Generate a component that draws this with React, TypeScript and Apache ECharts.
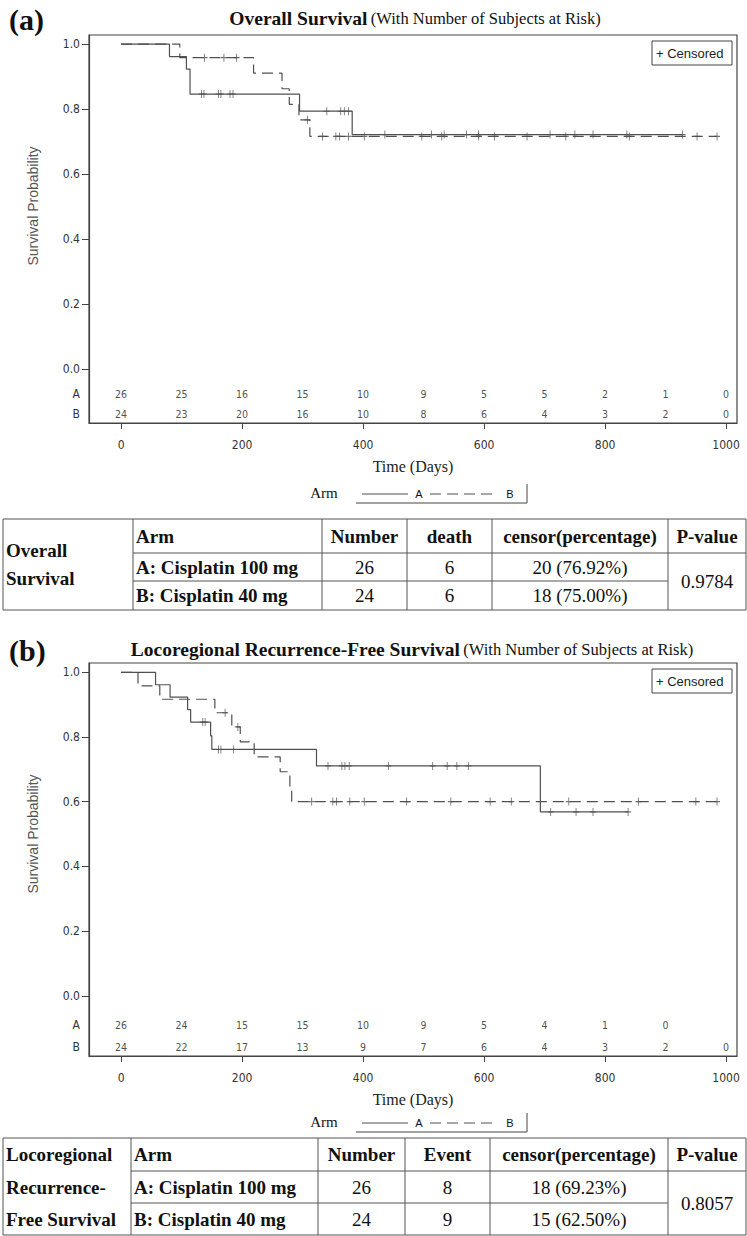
import React, { useEffect, useRef } from "react";
import * as echarts from "echarts";

// ---------- DATA ----------
const riskDays = [0, 100, 200, 300, 400, 500, 600, 700, 800, 900, 1000];
const xTicks = [0, 200, 400, 600, 800, 1000];
const yTicks = [0, 0.2, 0.4, 0.6, 0.8, 1.0];

// (a) Overall survival
const osRiskA = [26, 25, 16, 15, 10, 9, 5, 5, 2, 1, 0];
const osRiskB = [24, 23, 20, 16, 10, 8, 6, 4, 3, 2, 0];
const osA_eventDays = [80, 108, 114, 295, 382];
const osA_eventSurv = [0.9615, 0.9231, 0.8462, 0.7933, 0.7212];
const osA_censorDays = [133, 137, 161, 165, 180, 185, 340, 363, 369, 376, 436, 513, 534, 571, 591, 709, 750, 780, 836, 928];
const osA_lastDay = 928;
const osB_eventDays = [97, 219, 266, 278, 294, 312];
const osB_eventSurv = [0.9583, 0.9104, 0.8625, 0.8146, 0.7667, 0.7156];
const osB_censorDays = [138, 170, 191, 308, 333, 355, 361, 376, 402, 497, 530, 591, 617, 671, 735, 840, 952, 985];
const osB_lastDay = 985;

// (b) Locoregional recurrence-free survival
const lrRiskA = [26, 24, 15, 15, 10, 9, 5, 4, 1, 0];
const lrRiskB = [24, 22, 17, 13, 9, 7, 6, 4, 3, 2, 0];
const lrA_eventDays = [57, 81, 110, 115, 148, 150, 323, 693];
const lrA_eventSurv = [0.9615, 0.9231, 0.8846, 0.8462, 0.8038, 0.7615, 0.7108, 0.5686];
const lrA_censorDays = [135, 139, 161, 165, 186, 342, 365, 370, 377, 442, 515, 539, 555, 574, 710, 752, 780, 838];
const lrA_lastDay = 838;
const lrB_eventDays = [28, 64, 155, 183, 197, 220, 263, 279, 282];
const lrB_eventSurv = [0.9583, 0.9167, 0.875, 0.8313, 0.7851, 0.7389, 0.6927, 0.6465, 0.6004];
const lrB_censorDays = [172, 193, 315, 350, 356, 378, 402, 472, 545, 610, 645, 740, 855, 950, 985];
const lrB_lastDay = 985;

// tables
const osTableTitle = ["Overall", "Survival"];
const osTableHeader = ["Arm", "Number", "death", "censor(percentage)", "P-value"];
const osTableRows = [
  ["A: Cisplatin 100 mg", "26", "6", "20 (76.92%)"],
  ["B: Cisplatin 40 mg", "24", "6", "18 (75.00%)"],
];
const osPValue = "0.9784";

const lrTableTitle = ["Locoregional", "Recurrence-", "Free Survival"];
const lrTableHeader = ["Arm", "Number", "Event", "censor(percentage)", "P-value"];
const lrTableRows = [
  ["A: Cisplatin 100 mg", "26", "8", "18 (69.23%)"],
  ["B: Cisplatin 40 mg", "24", "9", "15 (62.50%)"],
];
const lrPValue = "0.8057";

// ---------- STYLE ----------
const SERIF = "'Liberation Serif', 'Times New Roman', serif";
const NARROW = "'Liberation Sans Narrow', 'Arial Narrow', 'DejaVu Sans Condensed', 'Liberation Sans', sans-serif";
const SANS = "'Liberation Sans', Arial, sans-serif";
const FRAME = "#444";
const CURVE = "#505050";
const DASH = [11, 6];
const TFS = 19;

function stepLine(days: number[], surv: number[], last: number) {
  const pts: number[][] = [[0, 1]];
  let s = 1;
  days.forEach((d, i) => {
    pts.push([d, s]);
    s = surv[i];
    pts.push([d, s]);
  });
  pts.push([last, s]);
  return pts;
}
function survAt(days: number[], surv: number[], t: number) {
  let s = 1;
  days.forEach((d, i) => {
    if (d <= t) s = surv[i];
  });
  return s;
}

const CENSOR_SYMBOL = "path://M3,0L3,8M0,4L6,4";

function panelSeries(
  idx: number,
  A: { d: number[]; s: number[]; c: number[]; last: number; risk: number[] },
  B: { d: number[]; s: number[]; c: number[]; last: number; risk: number[] },
  rowA: number,
  rowB: number
) {
  const riskLabel = {
    show: true,
    position: "inside",
    formatter: (p: any) => String(p.value[2]),
    fontSize: 10.5,
    fontFamily: NARROW,
    color: "#222",
  };
  return [
    {
      type: "line",
      xAxisIndex: idx,
      yAxisIndex: idx,
      data: stepLine(A.d, A.s, A.last),
      showSymbol: false,
      lineStyle: { color: CURVE, width: 1.2 },
      silent: true,
    },
    {
      type: "line",
      xAxisIndex: idx,
      yAxisIndex: idx,
      data: stepLine(B.d, B.s, B.last),
      showSymbol: false,
      lineStyle: { color: CURVE, width: 1.2, type: DASH },
      silent: true,
    },
    {
      type: "scatter",
      xAxisIndex: idx,
      yAxisIndex: idx,
      data: A.c.map((t) => [t, survAt(A.d, A.s, t)]),
      symbol: CENSOR_SYMBOL,
      symbolSize: [6, 8],
      itemStyle: { color: "none", borderColor: CURVE, borderWidth: 1 },
      silent: true,
    },
    {
      type: "scatter",
      xAxisIndex: idx,
      yAxisIndex: idx,
      data: B.c.map((t) => [t, survAt(B.d, B.s, t)]),
      symbol: CENSOR_SYMBOL,
      symbolSize: [6, 8],
      itemStyle: { color: "none", borderColor: CURVE, borderWidth: 1 },
      silent: true,
    },
    {
      type: "scatter",
      xAxisIndex: idx,
      yAxisIndex: idx,
      data: A.risk.map((n, i) => [riskDays[i], rowA, n]),
      symbolSize: 0,
      label: riskLabel,
      silent: true,
    },
    {
      type: "scatter",
      xAxisIndex: idx,
      yAxisIndex: idx,
      data: B.risk.map((n, i) => [riskDays[i], rowB, n]),
      symbolSize: 0,
      label: riskLabel,
      silent: true,
    },
  ];
}

function xAxisCfg(idx: number) {
  return {
    type: "value",
    gridIndex: idx,
    min: -53,
    max: 1018,
    name: "Time (Days)",
    nameLocation: "middle",
    nameGap: 35,
    nameTextStyle: { fontFamily: SERIF, fontSize: 16, color: "#222" },
    axisLine: { show: true, onZero: false, lineStyle: { color: FRAME, width: 1.2 } },
    axisTick: { show: true, length: 6, customValues: xTicks, lineStyle: { color: FRAME } },
    axisLabel: {
      customValues: xTicks,
      margin: 16,
      fontFamily: NARROW,
      fontSize: 12,
      color: "#333",
      formatter: (v: number) => String(v),
    },
    splitLine: { show: false },
  };
}

function yAxisCfg(idx: number, min: number, max: number, rowA: number, rowB: number) {
  return {
    type: "value",
    gridIndex: idx,
    min,
    max,
    axisLine: { show: true, onZero: false, lineStyle: { color: FRAME, width: 1.2 } },
    axisTick: { show: true, length: 7, customValues: yTicks, lineStyle: { color: FRAME } },
    axisLabel: {
      customValues: [rowB, rowA, ...yTicks],
      margin: 9,
      fontFamily: NARROW,
      fontSize: 12,
      color: "#333",
      formatter: (v: number) =>
        Math.abs(v - rowA) < 1e-6 ? "A" : Math.abs(v - rowB) < 1e-6 ? "B" : v.toFixed(1),
    },
    splitLine: { show: false },
  };
}

function txt(text: string, x: number, y: number, o: any = {}) {
  return {
    type: "text",
    x,
    y,
    silent: true,
    style: {
      text,
      fontFamily: o.fontFamily || SERIF,
      fontSize: o.fontSize || 16,
      fontWeight: o.fontWeight || "normal",
      fill: o.fill || "#111",
      align: o.align || "left",
      verticalAlign: o.verticalAlign || "middle",
    },
    ...(o.rotation !== undefined ? { rotation: o.rotation } : {}),
  };
}
function ln(x1: number, y1: number, x2: number, y2: number, o: any = {}) {
  return {
    type: "line",
    silent: true,
    shape: { x1, y1, x2, y2 },
    style: { stroke: o.stroke || "#333", lineWidth: o.lineWidth || 1, lineDash: o.lineDash || null },
  };
}

function panelDecor(label: string, titleBold: string, titleCx: number, titleY: number, gridTop: number, yMid: number, legendY: number) {
  const els: any[] = [];
  els.push(txt(label, 9, titleY + 1, { fontWeight: "bold", fontSize: 30 }));
  els.push({
    type: "text",
    x: titleCx,
    y: titleY,
    silent: true,
    style: {
      text: `{b|${titleBold}} {n|(With Number of Subjects at Risk)}`,
      align: "center",
      verticalAlign: "middle",
      rich: {
        b: { fontFamily: SERIF, fontWeight: "bold", fontSize: 19.5, fill: "#111" },
        n: { fontFamily: SERIF, fontSize: 16.5, fill: "#111" },
      },
    },
  });
  els.push(txt("Survival Probability", 33, yMid, { fontFamily: SANS, fontSize: 14, fill: "#555", align: "center", rotation: Math.PI / 2 }));
  // Censored legend box
  els.push({
    type: "rect",
    silent: true,
    shape: { x: 652, y: gridTop + 6, width: 80, height: 24 },
    style: { fill: "#fff", stroke: FRAME, lineWidth: 1 },
  });
  els.push(txt("+ Censored", 656, gridTop + 18.5, { fontFamily: SANS, fontSize: 13, fill: "#222" }));
  // bottom Arm legend
  els.push(txt("Arm", 324, legendY, { fontSize: 15, align: "center" }));
  els.push(ln(362, legendY + 1, 408, legendY + 1, { stroke: CURVE }));
  els.push(txt("A", 419, legendY + 1, { fontFamily: SANS, fontSize: 11, align: "center" }));
  els.push(ln(430, legendY + 1, 494, legendY + 1, { stroke: CURVE, lineDash: DASH }));
  els.push(txt("B", 510, legendY + 1, { fontFamily: SANS, fontSize: 11, align: "center" }));
  els.push(ln(356, legendY + 10, 527, legendY + 10, { stroke: FRAME }));
  els.push(ln(527, legendY - 9, 527, legendY + 10, { stroke: FRAME }));
  return els;
}

function tableDecor(
  y: number[],
  xs: number[],
  title: string[],
  titleYs: number[],
  header: string[],
  rows: string[][],
  pValue: string
) {
  const els: any[] = [];
  const L = xs[0];
  const R = xs[xs.length - 1];
  const st = { stroke: "#555", lineWidth: 1 };
  els.push(ln(L, y[0], R, y[0], st));
  els.push(ln(L, y[3], R, y[3], st));
  els.push(ln(xs[1], y[1], R, y[1], st));
  els.push(ln(xs[1], y[2], xs[5], y[2], st));
  xs.forEach((x) => els.push(ln(x, y[0], x, y[3], st)));
  title.forEach((t, i) => els.push(txt(t, L + 3, titleYs[i], { fontWeight: "bold", fontSize: TFS })));
  const cy = [(y[0] + y[1]) / 2, (y[1] + y[2]) / 2, (y[2] + y[3]) / 2];
  header.forEach((h, j) => {
    if (j === 0) els.push(txt(h, xs[1] + 3, cy[0], { fontWeight: "bold", fontSize: TFS }));
    else els.push(txt(h, (xs[j + 1] + xs[j + 2]) / 2, cy[0], { fontWeight: "bold", fontSize: TFS, align: "center" }));
  });
  rows.forEach((r, i) => {
    r.forEach((c, j) => {
      if (j === 0) els.push(txt(c, xs[1] + 3, cy[i + 1], { fontWeight: "bold", fontSize: TFS }));
      else els.push(txt(c, (xs[j + 1] + xs[j + 2]) / 2, cy[i + 1], { fontSize: TFS, align: "center" }));
    });
  });
  els.push(txt(pValue, (xs[5] + xs[6]) / 2, y[2], { fontSize: TFS, align: "center" }));
  return els;
}

export default function App() {
  const ref = useRef<HTMLDivElement>(null);
  useEffect(() => {
    document.body.style.margin = "0";
    const chart = echarts.init(ref.current!, undefined, { renderer: "svg" });
    const osRowA = -0.078, osRowB = -0.14;
    const lrRowA = -0.09, lrRowB = -0.158;
    const option: any = {
      animation: false,
      backgroundColor: "#fff",
      grid: [
        { left: 89, top: 35, width: 648, height: 388, show: true, borderColor: FRAME, borderWidth: 1.2, backgroundColor: "transparent" },
        { left: 89, top: 663, width: 648, height: 393, show: true, borderColor: FRAME, borderWidth: 1.2, backgroundColor: "transparent" },
      ],
      xAxis: [xAxisCfg(0), xAxisCfg(1)],
      yAxis: [yAxisCfg(0, -0.167, 1.028, osRowA, osRowB), yAxisCfg(1, -0.186, 1.0288, lrRowA, lrRowB)],
      series: [
        ...panelSeries(
          0,
          { d: osA_eventDays, s: osA_eventSurv, c: osA_censorDays, last: osA_lastDay, risk: osRiskA },
          { d: osB_eventDays, s: osB_eventSurv, c: osB_censorDays, last: osB_lastDay, risk: osRiskB },
          osRowA,
          osRowB
        ),
        ...panelSeries(
          1,
          { d: lrA_eventDays, s: lrA_eventSurv, c: lrA_censorDays, last: lrA_lastDay, risk: lrRiskA },
          { d: lrB_eventDays, s: lrB_eventSurv, c: lrB_censorDays, last: lrB_lastDay, risk: lrRiskB },
          lrRowA,
          lrRowB
        ),
      ],
      graphic: [
        ...panelDecor("(a)", "Overall Survival", 415, 18, 35, 206, 493),
        ...panelDecor("(b)", "Locoregional Recurrence-Free Survival", 412, 649, 663, 834, 1122),
        ...tableDecor([519, 553, 581, 610], [3, 133, 322, 407, 492, 668, 746], osTableTitle, [550, 578], osTableHeader, osTableRows, osPValue),
        ...tableDecor([1138, 1171, 1203, 1235], [3, 131, 318, 405, 490, 668, 746], lrTableTitle, [1154, 1187, 1219], lrTableHeader, lrTableRows, lrPValue),
      ],
    };
    chart.setOption(option);
    return () => chart.dispose();
  }, []);
  return <div ref={ref} style={{ width: 747, height: 1236 }} />;
}
